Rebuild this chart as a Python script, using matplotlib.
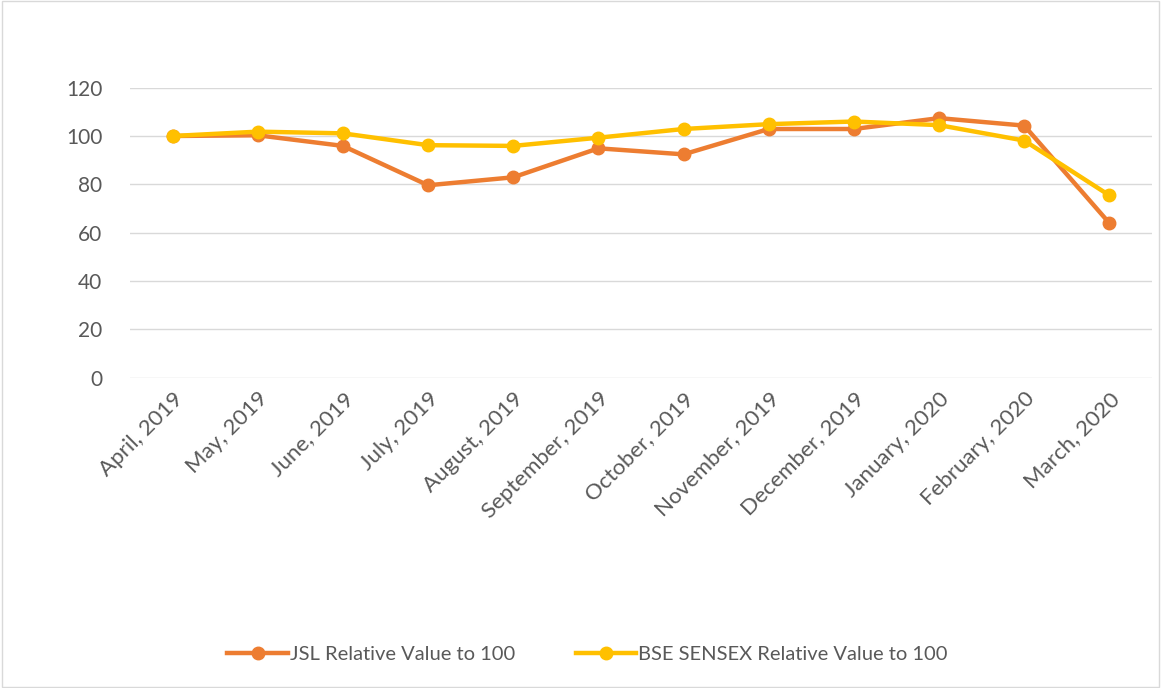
import matplotlib.pyplot as plt
from matplotlib.patches import Rectangle

months = ["April, 2019", "May, 2019", "June, 2019", "July, 2019", "August, 2019",
          "September, 2019", "October, 2019", "November, 2019", "December, 2019",
          "January, 2020", "February, 2020", "March, 2020"]
jsl = [100, 100.3, 95.9, 79.6, 82.9, 94.9, 92.4, 102.9, 102.9, 107.4, 104.3, 63.9]
sensex = [100, 101.8, 101.1, 96.2, 95.9, 99.3, 102.9, 104.9, 106.0, 104.5, 98.1, 75.4]
yticks = [0, 20, 40, 60, 80, 100, 120]

plt.rcParams['font.family'] = ['Lato', 'DejaVu Sans']
text_color = "#595959"

fig = plt.figure(figsize=(11.61, 6.88), dpi=100)
ax = fig.add_axes([130 / 1161, 1 - 377.5 / 688, (1152 - 130) / 1161, (377.5 - 87.7) / 688])

x = list(range(len(months)))
ax.plot(x, jsl, color="#ED7D31", lw=3.2, marker="o", ms=9,
        label="JSL Relative Value to 100", clip_on=False, zorder=3)
ax.plot(x, sensex, color="#FFC000", lw=3.2, marker="o", ms=9,
        label="BSE SENSEX Relative Value to 100", clip_on=False, zorder=4)

ax.set_xlim(-0.5, len(months) - 0.5)
ax.set_ylim(0, 120)
ax.set_yticks(yticks)
ax.set_xticks(x)
ax.set_xticklabels(months, rotation=45, ha="right", rotation_mode="anchor")
ax.tick_params(axis="both", length=0, colors=text_color)
ax.tick_params(axis="y", pad=20, labelsize=15)
ax.tick_params(axis="x", pad=8, labelsize=16)
ax.grid(axis="y", color="#D9D9D9", lw=1)
ax.set_axisbelow(True)
for s in ax.spines.values():
    s.set_visible(False)

leg = fig.legend(loc="center", bbox_to_anchor=(0.506, 1 - 654 / 688), ncol=2,
                 frameon=False, fontsize=14.5, handlelength=3.0, columnspacing=3,
                 handletextpad=0.1)
for t in leg.get_texts():
    t.set_color(text_color)

fig.patches.append(Rectangle((0.002, 0.002), 0.996, 0.996, transform=fig.transFigure,
                             fill=False, edgecolor="#D9D9D9", lw=1))

fig.savefig("out.png", dpi=100)
